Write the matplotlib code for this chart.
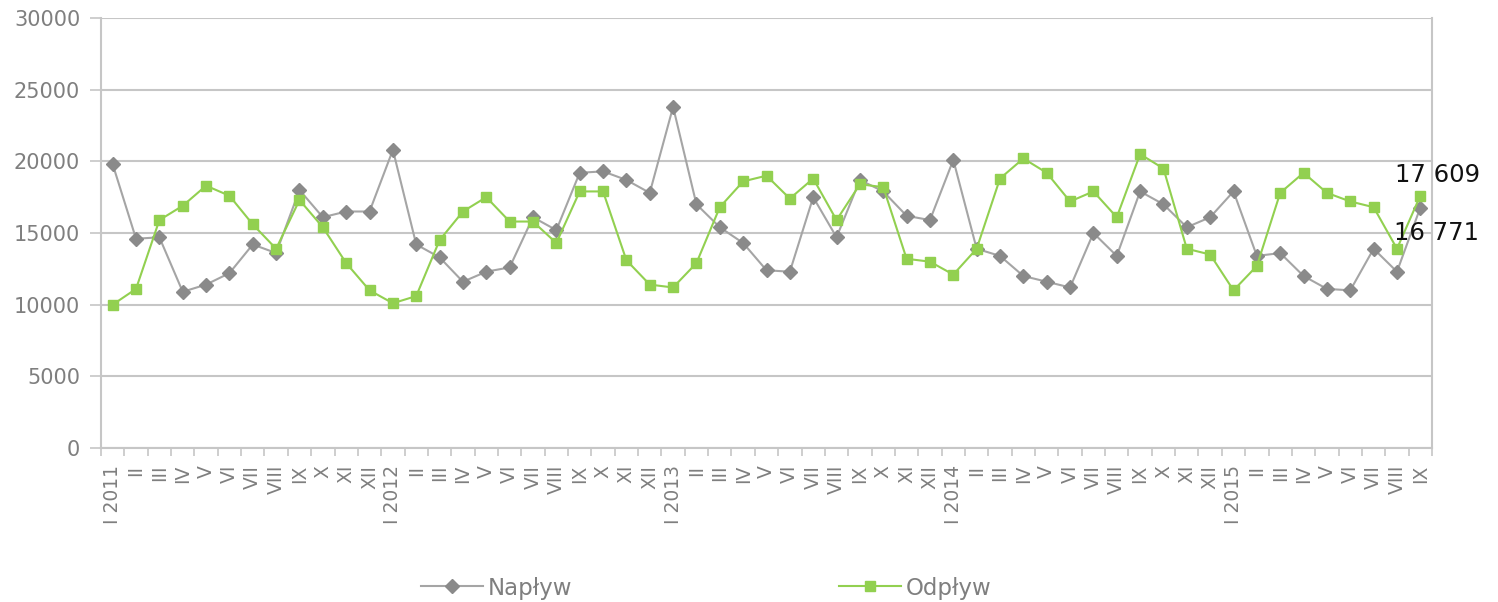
import matplotlib
matplotlib.use("Agg")
import matplotlib.pyplot as plt
from matplotlib.ticker import FixedLocator

# ---- data ----
roman = ["I", "II", "III", "IV", "V", "VI", "VII", "VIII", "IX", "X", "XI", "XII"]
years = [2011, 2012, 2013, 2014, 2015]
months_2015 = 9

naplyw = [19800, 14600, 14700, 10900, 11400, 12200, 14200, 13600, 18000, 16100, 16500, 16500,
          20800, 14200, 13300, 11600, 12300, 12600, 16100, 15200, 19200, 19300, 18700, 17800,
          23800, 17000, 15400, 14300, 12400, 12300, 17500, 14700, 18700, 17900, 16200, 15900,
          20100, 13900, 13400, 12000, 11600, 11200, 15000, 13400, 17900, 17000, 15400, 16100,
          17900, 13400, 13600, 12000, 11100, 11000, 13900, 12300, 16771]
odplyw = [10000, 11100, 15900, 16900, 18300, 17600, 15600, 13900, 17300, 15400, 12900, 11000,
          10100, 10600, 14500, 16500, 17500, 15800, 15800, 14300, 17900, 17900, 13100, 11400,
          11200, 12900, 16800, 18600, 19000, 17400, 18800, 15900, 18400, 18200, 13200, 13000,
          12100, 13900, 18800, 20200, 19200, 17200, 17900, 16100, 20500, 19500, 13900, 13500,
          11000, 12700, 17800, 19200, 17800, 17200, 16800, 13900, 17609]
series_names = ["Napływ", "Odpływ"]

labels = []
for y in years:
    n = 12 if y != years[-1] else months_2015
    for m in range(n):
        labels.append(f"{roman[m]} {y}" if m == 0 else roman[m])

# ---- style ----
gray_txt = "#7f7f7f"
grid_c = "#c6c6c6"
gray_line = "#a5a5a5"
gray_mark = "#8a8a8a"
green = "#92d050"

fig = plt.figure(figsize=(14.98, 6.02), dpi=100)
ax = fig.add_axes([101 / 1498, 1 - 448 / 602, (1432 - 101) / 1498, (448 - 18) / 602])

x = list(range(len(labels)))
ax.plot(x, naplyw, color=gray_line, lw=1.5, marker="D", ms=7,
        mfc=gray_mark, mec=gray_mark, label=series_names[0], zorder=3)
ax.plot(x, odplyw, color=green, lw=1.5, marker="s", ms=7.5,
        mfc=green, mec=green, label=series_names[1], zorder=4)

ax.set_xlim(-0.5, len(labels) - 0.5)
ax.set_ylim(0, 30000)
ax.set_yticks(range(0, 30001, 5000))
ax.yaxis.grid(True, color=grid_c, lw=1.5)
ax.set_axisbelow(True)

ax.set_xticks(x)
ax.set_xticklabels(labels, rotation=90, fontsize=13.5, color=gray_txt, va="top", ha="center")
ax.xaxis.set_minor_locator(FixedLocator([i - 0.5 for i in range(len(labels) + 1)]))
ax.tick_params(axis="x", which="major", length=0, pad=12)
ax.tick_params(axis="x", which="minor", length=6, width=1.2, color=grid_c, direction="out")
ax.tick_params(axis="y", length=8, width=1.2, color=grid_c, labelsize=15,
               labelcolor=gray_txt, pad=7)

for s in ["left", "right", "bottom"]:
    ax.spines[s].set_color(grid_c)
    ax.spines[s].set_linewidth(1.5)
ax.spines["top"].set_visible(False)

# value labels for last points
fmt = lambda v: f"{v:,}".replace(",", " ")
ax.annotate(fmt(odplyw[-1]), xy=(x[-1], odplyw[-1]), xytext=(-25, 21),
            textcoords="offset pixels", fontsize=17.5, color="#111111",
            ha="left", va="center", zorder=5)
ax.annotate(fmt(naplyw[-1]), xy=(x[-1], naplyw[-1]), xytext=(-26, -25),
            textcoords="offset pixels", fontsize=17.5, color="#111111",
            ha="left", va="center", zorder=5)

# legends at bottom
h, l = ax.get_legend_handles_labels()
for i, xpos in enumerate([421, 839]):
    fig.legend([h[i]], [l[i]], loc="center left",
               bbox_to_anchor=(xpos / 1498, 1 - 588 / 602),
               frameon=False, fontsize=16.5, labelcolor=gray_txt,
               handlelength=2.7, handletextpad=0.2, borderpad=0, borderaxespad=0)

fig.savefig("out.png", dpi=100)
